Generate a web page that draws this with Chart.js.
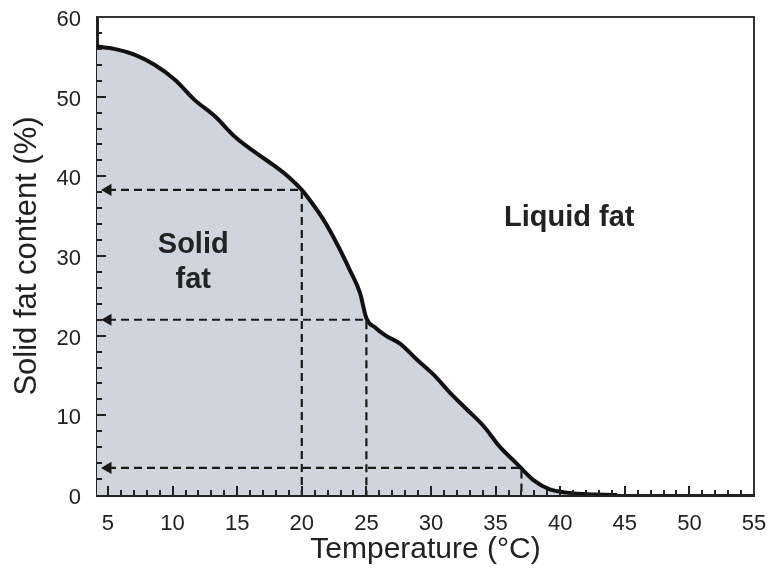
<!DOCTYPE html>
<html>
<head>
<meta charset="utf-8">
<script src="https://cdn.jsdelivr.net/npm/chart.js@4/dist/chart.umd.min.js"></script>
<style>
  html, body { margin: 0; padding: 0; background: #fff; }
  #wrap { width: 769px; height: 572px; }
</style>
</head>
<body>
<div id="wrap"><canvas id="c" width="769" height="572"></canvas></div>
<script>
// ---- data ----
const temps = [4.15, 5.5, 7.0, 8.6, 10.2, 11.7, 13.3, 14.8, 16.4, 17.9, 19.0, 20.0, 20.9, 21.7, 22.7, 23.7, 24.5, 25.0, 25.7, 26.5, 27.6, 28.9, 30.2, 31.5, 32.8, 34.1, 35.3, 36.6, 37.9, 39.2, 40.5, 41.8, 44.4];
const sfc   = [56.3, 56.0, 55.3, 54.0, 52.1, 49.6, 47.5, 45.0, 43.0, 41.3, 39.9, 38.3, 36.4, 34.5, 31.6, 28.3, 25.4, 22.2, 21.0, 20.0, 19.0, 17.0, 15.1, 12.8, 10.7, 8.6, 6.1, 4.0, 1.9, 0.7, 0.3, 0.13, 0.0];
const guideTemps = [20, 25, 37];
const guideSFC   = [38.3, 22.0, 3.4];
const xTicks = [5, 10, 15, 20, 25, 30, 35, 40, 45, 50, 55];
const yTicks = [0, 10, 20, 30, 40, 50, 60];
const xMin = 4.15, xMax = 55, yMin = 0, yMax = 60;
const labels = [
  { text: 'Solid', x: 11.6, y: 31.4 },
  { text: 'fat', x: 11.6, y: 27.0 },
  { text: 'Liquid fat', x: 40.7, y: 34.8 }
];

const FONT = '"Liberation Sans", Arial, Helvetica, sans-serif';
const INK = '#222';

const curve = temps.map((t, i) => ({ x: t, y: sfc[i] }));
const arrowX = 5.0;
const guideSets = guideTemps.map((t, i) => ({
  data: [{ x: arrowX, y: guideSFC[i] }, { x: t, y: guideSFC[i] }, { x: t, y: 0 }],
  borderColor: '#1a1a1a',
  borderWidth: 2.2,
  borderDash: [8, 5],
  fill: false,
  tension: 0,
  pointRadius: [7, 0, 0],
  pointStyle: 'triangle',
  pointRotation: -90,
  pointBackgroundColor: '#1a1a1a',
  pointBorderWidth: 0,
  order: 1
}));

const decor = {
  id: 'decor',
  afterDatasetsDraw(chart) {
    const { ctx, chartArea: a } = chart;
    const xs = chart.scales.x, ys = chart.scales.y;
    ctx.save();
    // frame top/right
    ctx.strokeStyle = '#333';
    ctx.lineWidth = 2;
    ctx.beginPath();
    ctx.moveTo(a.left, a.top);
    ctx.lineTo(a.right, a.top);
    ctx.lineTo(a.right, a.bottom);
    ctx.stroke();
    // inward ticks
    ctx.strokeStyle = INK;
    ctx.lineWidth = 2;
    ctx.beginPath();
    for (let v = 5; v <= 54; v += 1) {
      const px = Math.round(xs.getPixelForValue(v));
      const len = (v % 5 === 0) ? 9 : 5;
      ctx.moveTo(px, a.bottom);
      ctx.lineTo(px, a.bottom - len);
    }
    for (let v = 2; v <= 58; v += 2) {
      const py = Math.round(ys.getPixelForValue(v));
      const len = (v % 10 === 0) ? 9 : 5;
      ctx.moveTo(a.left, py);
      ctx.lineTo(a.left + len, py);
    }
    ctx.stroke();
    // region labels
    ctx.fillStyle = INK;
    ctx.font = 'bold 29px ' + FONT;
    ctx.textAlign = 'center';
    ctx.textBaseline = 'middle';
    labels.forEach(l => {
      ctx.fillText(l.text, xs.getPixelForValue(l.x), ys.getPixelForValue(l.y));
    });
    ctx.restore();
  }
};

new Chart(document.getElementById('c'), {
  type: 'line',
  data: {
    datasets: [
      {
        data: curve,
        borderColor: '#111',
        borderWidth: 4,
        backgroundColor: 'rgb(208,212,220)',
        fill: 'origin',
        cubicInterpolationMode: 'monotone',
        pointRadius: 0,
        order: 2
      },
      ...guideSets
    ]
  },
  options: {
    responsive: false,
    animation: false,
    events: [],
    layout: { padding: { top: 17, right: 15, left: 0, bottom: 0 } },
    plugins: { legend: { display: false }, tooltip: { enabled: false } },
    scales: {
      x: {
        type: 'linear',
        min: xMin, max: xMax,
        z: 1,
        afterBuildTicks: s => { s.ticks = xTicks.map(v => ({ value: v })); },
        afterFit: s => { s.height = 77; s.paddingLeft = 0; s.paddingRight = 0; },
        grid: { display: false },
        border: { display: true, color: INK, width: 3 },
        ticks: { color: INK, font: { family: FONT, size: 22 }, padding: 8, maxRotation: 0, autoSkip: false },
        title: { display: true, text: 'Temperature (°C)', color: INK, font: { family: FONT, size: 30 }, padding: { top: 0, bottom: 4 } }
      },
      y: {
        type: 'linear',
        min: yMin, max: yMax,
        z: 1,
        afterBuildTicks: s => { s.ticks = yTicks.map(v => ({ value: v })); },
        afterFit: s => { s.width = 97; s.paddingTop = 0; s.paddingBottom = 0; },
        grid: { display: false },
        border: { display: true, color: INK, width: 3 },
        ticks: { color: INK, font: { family: FONT, size: 22 }, padding: 8, labelOffset: 3 },
        title: { display: true, text: 'Solid fat content (%)', color: INK, font: { family: FONT, size: 31 }, padding: { top: 9, bottom: 0 } }
      }
    }
  },
  plugins: [decor]
});
</script>
</body>
</html>
